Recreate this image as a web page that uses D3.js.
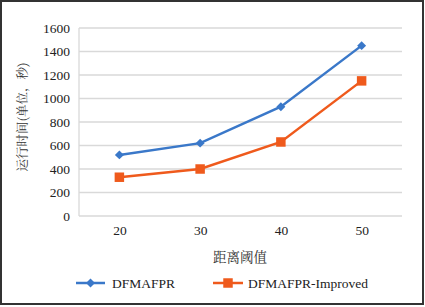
<!DOCTYPE html>
<html><head><meta charset="utf-8">
<script src="https://cdn.jsdelivr.net/npm/d3@7/dist/d3.min.js"></script>
<style>body{margin:0;background:#fff}svg{display:block}</style>
</head><body>
<script>
const categories = ["20","30","40","50"];
const seriesNames = ["DFMAFPR","DFMAFPR-Improved"];
const dfmafpr = [520, 620, 930, 1450];
const improved = [330, 400, 630, 1150];
const yTicks = [0,200,400,600,800,1000,1200,1400,1600];
const colors = ["#3a78c9","#ef5a1c"];

const W=425,H=307;
const serif="Liberation Serif";
const cjk="Noto Serif CJK SC";
const svg=d3.select("body").append("svg").attr("width",W).attr("height",H);
svg.append("rect").attr("x",1).attr("y",1).attr("width",422).attr("height",303)
  .attr("fill","#fff").attr("stroke","#333").attr("stroke-width",2);

const x=d3.scalePoint().domain(categories).range([79,402]).padding(0.5);
const y=d3.scaleLinear().domain([0,1600]).range([216,28]);

// gridlines
svg.append("g").selectAll("line").data(yTicks).join("line")
  .attr("x1",79).attr("x2",402).attr("y1",d=>y(d)).attr("y2",d=>y(d))
  .attr("stroke","#d9d9d9").attr("stroke-width",1.3);
svg.append("line").attr("x1",79).attr("x2",79).attr("y1",y(0)).attr("y2",y(1600))
  .attr("stroke","#d9d9d9").attr("stroke-width",1.3);

// y axis labels
const ya=d3.axisLeft(y).tickValues(yTicks).tickFormat(d3.format("d")).tickSize(0).tickPadding(9);
const gy=svg.append("g").attr("transform","translate(79,0)").call(ya)
  .attr("font-family",serif).attr("font-size",13.5);
gy.select(".domain").remove();
gy.selectAll("text").attr("fill","#222");

// x axis labels
const xa=d3.axisBottom(x).tickSize(0).tickPadding(9);
const gx=svg.append("g").attr("transform","translate(0,216)").call(xa)
  .attr("font-family",serif).attr("font-size",13.5);
gx.select(".domain").remove();
gx.selectAll("text").attr("fill","#222");

// axis titles
svg.append("text").attr("x",240).attr("y",262).attr("text-anchor","middle")
  .attr("font-family",cjk).attr("font-size",13.5).attr("fill","#333").text("距离阈值");
svg.append("text").attr("transform","translate(27,117) rotate(-90)").attr("text-anchor","middle")
  .attr("font-family",cjk).attr("font-size",12.5).attr("fill","#333").text("运行时间(单位，秒)");

const data=[dfmafpr,improved];
const line=d3.line().x((d,i)=>x(categories[i])).y(d=>y(d));
const diamond=d3.symbol().type(d3.symbolSquare).size(40);
const square=d3.symbol().type(d3.symbolSquare).size(90);
data.forEach((s,k)=>{
  svg.append("path").datum(s).attr("d",line).attr("fill","none")
    .attr("stroke",colors[k]).attr("stroke-width",2.5);
  svg.append("g").selectAll("path").data(s).join("path")
    .attr("transform",(d,i)=>`translate(${x(categories[i])},${y(d)})`+(k===0?" rotate(45)":""))
    .attr("d",k===0?diamond:square).attr("fill",colors[k]);
});

// legend
const leg=[{x0:76,x1:105,tx:112},{x0:213,x1:243,tx:248}];
leg.forEach((l,k)=>{
  const ly=283;
  svg.append("line").attr("x1",l.x0).attr("x2",l.x1).attr("y1",ly).attr("y2",ly)
    .attr("stroke",colors[k]).attr("stroke-width",2.5);
  svg.append("path").attr("transform",`translate(${(l.x0+l.x1)/2},${ly})`+(k===0?" rotate(45)":""))
    .attr("d",k===0?diamond:square).attr("fill",colors[k]);
  svg.append("text").attr("x",l.tx).attr("y",ly+4.5)
    .attr("font-family",serif).attr("font-size",13.5).attr("fill","#222").text(seriesNames[k]);
});
</script>
</body></html>
